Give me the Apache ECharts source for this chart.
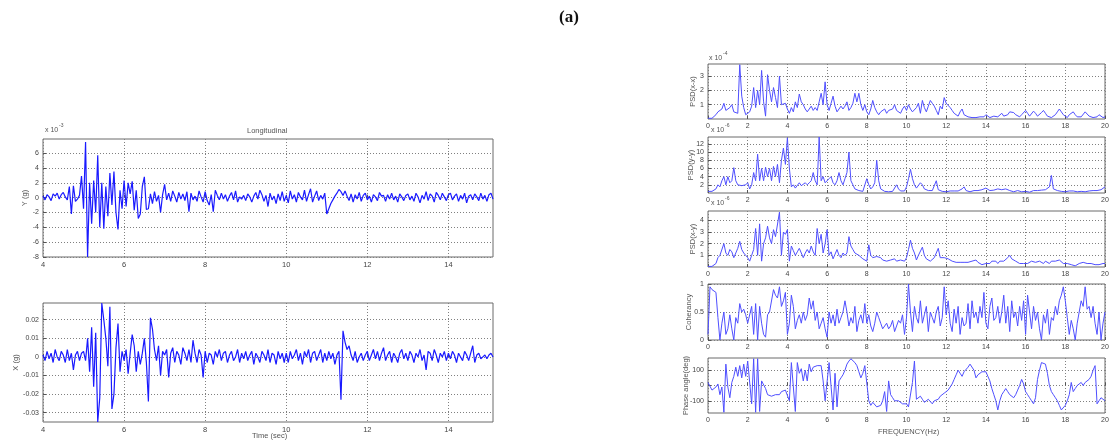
<!DOCTYPE html>
<html>
<head>
<meta charset="utf-8">
<title>Longitudinal records and spectra</title>
<script src="https://cdn.jsdelivr.net/npm/echarts@6/dist/echarts.min.js"></script>
<style>
html, body { margin: 0; padding: 0; background: #fff; }
#chart { width: 1112px; height: 446px; }
</style>
</head>
<body>
<div id="chart"></div>
<script>
// time histories, sampled every 0.05 s from 4.00 s to 15.10 s
var timeStart = 4, timeStep = 0.05;
// Y (g), in units of 1e-3
var accY = [
    0.2, -0.3, 0.4, 0.1, -0.4, 0.5, 0.2, 0.6, -0.2, 0.4, 0.7, 0.1, -0.3, 1.5, -2.2, 1.6, -0.5, -0.2, 0.3, 2.9,
    -1.5, 7.5, -8.0, 2.0, -3.5, 2.3, -2.0, 5.7, -4.0, 2.0, -4.2, 1.5, -2.5, 3.3, -1.0, 3.5, -2.0, -4.3, 1.0, -1.5,
    2.3, -1.2, 2.0, 0.5, 2.2, -1.7, 1.0, -2.8, -2.2, 1.5, 2.8, -1.6, -1.5, 0.5, -0.8, 0.8, -0.5, 0.3, -2.0, 0.4,
    1.8, -0.3, 0.6, -0.5, 0.9, 0.2, -0.6, 0.7, -0.2, 0.5, -0.4, 0.8, -1.9, 0.6, -0.3, 0.2, -0.5, 0.9, 0.1, -0.6,
    0.8, -0.4, -1.0, 0.4, -1.9, 1.0, 0.3, -0.3, 0.6, -0.2, 0.4, -0.5, 0.2, 0.7, -0.3, 0.9, -0.6, 0.1, -0.2, 0.3,
    -0.4, 0.5, 0.1, -0.6, 0.2, 0.7, -0.2, 1.0, 0.4, -0.5, 0.3, -1.2, 0.6, -0.3, 0.2, -0.8, 0.5, -0.4, 0.8, -0.5,
    0.3, -0.7, 0.9, -0.2, 0.4, -0.6, 0.7, 0.1, -0.3, 1.0, -0.5, 0.4, 1.2, -0.6, 0.2, 0.9, -0.4, 0.3, -0.2, 0.6,
    -2.2, -1.5, -0.8, -0.3, 0.2, 0.6, 1.1, 0.8, 0.3, 0.9, 0.2, -0.4, 0.5, -0.6, 0.4, -0.2, 0.7, -0.5, 0.3, 0.6,
    -0.3, 0.2, -0.6, 0.4, 0.1, -0.4, 0.7, 0.2, 0.3, -0.5, 0.4, -0.2, 0.6, -0.3, 0.2, -0.6, 0.5, 0.1, -0.4, 0.3,
    0.5, -0.3, 0.2, -0.5, 0.6, 0.1, -0.7, 0.3, -0.2, 0.8, -0.4, 0.5, 0.2, -0.6, 0.7, 0.3, -0.3, 0.6, 0.1, -0.4,
    0.4, 0.6, -0.3, 0.2, 0.5, -0.5, 0.3, -0.2, 0.6, -0.7, 0.2, 0.4, -0.3, 0.5, 0.1, -0.4, 0.6, -0.2, 0.3, -0.5,
    0.4, 0.6, -0.2
];
// X (g)
var accX = [
    0.001, -0.002, 0.003, -0.001, 0.002, -0.003, 0.004, 0.000, -0.002, 0.003, 0.001, -0.003, 0.004, -0.002, 0.002, -0.007, 0.001, 0.003, -0.002, 0.002,
    0.003, -0.002, 0.010, -0.008, 0.016, -0.016, 0.013, -0.035, -0.022, 0.029, 0.020, 0.010, -0.005, 0.027, -0.028, -0.020, 0.005, 0.018, -0.008, 0.003,
    -0.002, 0.004, -0.009, 0.002, 0.012, 0.006, -0.008, 0.003, -0.004, 0.002, 0.010, -0.003, -0.024, 0.021, 0.015, 0.004, -0.002, 0.006, -0.010, 0.003,
    0.001, 0.004, -0.011, 0.002, 0.005, -0.003, 0.003, 0.001, -0.004, 0.005, 0.002, -0.002, 0.004, -0.003, 0.009, 0.002, -0.003, 0.004, 0.001, -0.011,
    0.003, -0.003, 0.002, 0.001, -0.004, 0.003, 0.000, 0.004, -0.002, 0.002, 0.003, -0.003, 0.001, 0.003, -0.002, 0.000, 0.004, -0.003, 0.002, -0.001,
    0.003, -0.002, 0.001, 0.003, -0.004, 0.002, 0.000, -0.003, 0.003, 0.001, -0.002, 0.004, -0.003, 0.002, 0.001, -0.004, 0.003, -0.001, 0.002, -0.003,
    0.002, -0.003, 0.003, -0.001, 0.001, 0.004, -0.002, 0.002, -0.004, 0.003, 0.000, 0.004, -0.003, 0.002, 0.003, -0.002, 0.001, 0.004, -0.003, 0.002,
    -0.002, 0.003, -0.001, 0.002, -0.004, 0.001, 0.003, -0.023, 0.014, 0.008, 0.004, 0.006, 0.001, -0.002, 0.003, -0.003, 0.000, 0.002, -0.002, 0.001,
    0.003, -0.002, 0.001, 0.004, -0.001, 0.003, -0.002, 0.002, 0.005, -0.002, 0.001, 0.003, -0.003, 0.002, 0.000, -0.003, 0.002, 0.004, -0.001, 0.002,
    -0.002, 0.003, 0.001, -0.003, 0.002, 0.000, 0.004, -0.002, 0.001, -0.007, 0.003, 0.002, -0.002, 0.004, 0.001, -0.003, 0.002, 0.000, 0.003, -0.002,
    0.002, -0.001, 0.003, 0.001, -0.003, 0.002, 0.000, -0.002, 0.003, 0.001, -0.002, 0.002, 0.006, -0.003, 0.001, 0.002, -0.001, 0.000, 0.001, -0.001,
    0.001, 0.002, 0.000
];

// spectra, every 0.1 Hz from 0 to 20 Hz
var freqStep = 0.1;
// PSD(x-x), units of 1e-4
var psdXX = [
    0.05, 0.05, 0.05, 0.1, 0.3, 0.5, 0.6, 0.7, 1.1, 0.6,
    0.5, 0.8, 1.0, 0.5, 0.6, 0.4, 3.8, 1.6, 0.8, 0.3,
    0.2, 0.5, 0.9, 2.2, 0.8, 2.0, 1.0, 3.4, 1.2, 0.2,
    3.1, 2.0, 1.2, 2.2, 1.5, 0.8, 3.0, 1.0, 0.9, 1.1,
    0.7, 0.4, 0.8, 0.5, 1.2, 0.8, 1.75, 1.2, 1.0, 0.7,
    0.5, 0.7, 0.9, 0.6, 0.8, 0.6, 1.2, 1.8, 1.0, 2.6,
    1.0, 0.6, 1.1, 1.6, 0.9, 0.5, 0.7, 0.9, 0.7, 0.9,
    1.2, 0.6, 0.8, 1.1, 1.8, 1.2, 1.8, 1.0, 0.6, 1.0,
    0.5, 0.3, 0.7, 1.3, 0.8, 0.5, 0.3, 0.5, 0.6, 0.7,
    0.4, 0.6, 0.5, 0.7, 1.0, 0.6, 0.5, 0.4, 0.7, 0.9,
    0.6, 1.0, 0.7, 0.5, 0.6, 0.8, 1.1, 0.4, 1.3, 0.8,
    0.5, 0.9, 1.3, 1.1, 0.9, 0.6, 0.3, 0.9, 0.7, 1.5,
    1.1, 1.0, 0.8, 0.6, 0.4, 0.3, 0.2, 0.5, 0.7, 0.3,
    0.2, 0.15, 0.1, 0.1, 0.15, 0.1, 0.1, 0.15, 0.1, 0.15,
    0.3, 0.2, 0.1, 0.15, 0.2, 0.1, 0.15, 0.25, 0.4, 0.2,
    0.15, 0.3, 0.5, 0.6, 0.45, 0.3, 0.2, 0.15, 0.3, 0.2,
    0.6, 0.4, 0.2, 0.1, 0.55, 0.4, 0.2, 0.3, 0.45, 0.6,
    0.4, 0.2, 0.15, 0.1, 0.2, 0.3, 0.5, 0.7, 0.5, 0.3,
    0.2, 0.1, 0.3, 0.4, 0.5, 0.3, 0.15, 0.1, 0.15, 0.2,
    0.5, 0.4, 0.2, 0.15, 0.1, 0.2, 0.15, 0.3, 0.2, 0.1,
    0.15
];
// PSD(y-y), units of 1e-6
var psdYY = [
    0.4, 0.4, 0.4, 0.5, 1.0, 2.0, 1.5, 3.0, 4.0, 2.0,
    4.0, 2.5, 3.0, 6.2, 3.0, 2.0, 2.2, 1.8, 1.5, 2.0,
    2.5, 1.0, 2.0, 5.0, 3.0, 9.5, 3.0, 6.0, 3.0, 6.3,
    4.0, 6.0, 3.0, 6.5, 4.0, 7.0, 2.5, 8.0, 11.0, 7.0,
    13.5, 6.0, 1.5, 2.0, 1.2, 1.5, 2.5, 1.8, 2.0, 2.5,
    2.0, 2.5, 3.0, 5.0, 3.0, 2.0, 13.7, 3.0, 4.0, 2.5,
    2.5, 3.5, 4.0, 2.5, 2.0, 3.0, 5.0, 3.0, 2.0, 3.5,
    5.0, 10.0, 3.0, 2.0, 1.0, 0.8, 0.6, 0.5, 0.4, 0.5,
    3.5, 2.0, 1.0, 1.5, 2.5, 8.0, 3.0, 1.0, 0.6, 0.4,
    0.3, 0.3, 0.5, 0.4, 0.8, 2.0, 1.0, 0.5, 0.4, 0.5,
    1.5, 3.5, 5.8, 3.5, 2.0, 1.2, 1.5, 2.5, 2.0, 1.0,
    0.8, 0.6, 0.5, 0.6, 0.5, 3.0, 0.8, 0.5, 0.4, 0.3,
    0.3, 0.4, 0.5, 0.4, 0.5, 0.6, 0.5, 0.8, 1.0, 1.5,
    0.6, 0.4, 0.3, 0.5, 0.6, 0.8, 0.6, 0.5, 0.8, 1.0,
    1.2, 0.8, 0.6, 0.5, 0.7, 0.9, 1.0, 1.2, 0.8, 1.2,
    1.0, 0.8, 0.6, 0.4, 0.3, 0.5, 0.6, 0.4, 0.3, 0.4,
    0.4, 0.3, 0.2, 0.4, 0.6, 0.8, 0.6, 0.5, 0.7, 0.8,
    0.8, 1.0, 1.5, 4.3, 1.0, 0.8, 0.6, 0.5, 0.4, 0.3,
    0.3, 0.4, 0.5, 0.6, 0.5, 0.4, 0.3, 0.5, 0.4, 0.3,
    0.3, 0.4, 0.5, 0.4, 0.6, 0.8, 0.6, 0.5, 0.8, 1.0,
    1.5
];
// PSD(x-y), units of 1e-6
var psdXY = [
    0.05, 0.05, 0.05, 0.1, 0.3, 0.8, 1.0, 0.9, 2.0, 1.2,
    1.0, 1.5, 1.3, 0.8, 1.2, 1.6, 2.2, 1.5, 1.2, 1.0,
    0.8, 0.5, 1.0, 1.5, 3.3, 1.0, 3.7, 0.5, 2.0, 2.5,
    3.5, 2.5, 2.0, 3.2, 2.6, 2.5, 4.7, 1.0, 3.0, 2.8,
    3.2, 0.5, 1.8, 1.4, 1.0, 1.3, 1.6, 1.2, 0.8, 1.2,
    1.5, 1.2, 1.8, 1.3, 1.0, 3.3, 2.0, 2.8, 1.2, 2.0,
    3.2, 1.0, 1.3, 0.7, 1.1, 1.5, 1.0, 0.8, 1.2, 1.0,
    1.2, 2.6, 1.8, 1.5, 1.2, 1.3, 1.0, 0.9, 0.7, 0.6,
    0.5, 1.9, 1.0, 0.8, 0.7, 0.9, 1.0, 0.8, 0.6, 0.5,
    0.5, 0.4, 0.6, 0.5, 0.7, 0.5, 0.4, 0.6, 0.5, 0.5,
    0.8, 1.5, 2.3, 1.6, 1.2, 0.6, 1.0, 0.9, 1.7, 1.0,
    0.7, 0.6, 0.5, 0.6, 0.8, 0.7, 1.6, 0.8, 0.9, 0.8,
    0.8, 0.7, 0.6, 0.5, 0.6, 0.4, 0.5, 0.4, 0.3, 0.4,
    0.3, 0.4, 0.3, 0.5, 0.4, 0.6, 0.4, 0.3, 0.2, 0.3,
    0.3, 0.4, 0.3, 0.5, 0.4, 0.5, 0.3, 0.5, 0.6, 0.5,
    0.6, 0.8, 1.0, 0.7, 0.6, 0.5, 0.4, 0.3, 0.2, 0.3,
    0.2, 0.3, 0.4, 0.5, 0.6, 0.4, 0.3, 0.5, 0.4, 0.3,
    0.5, 0.4, 0.3, 0.5, 0.6, 0.5, 0.4, 0.6, 0.5, 0.3,
    0.4, 0.3, 0.2, 0.2, 0.1, 0.1, 0.2, 0.3, 0.3, 0.4,
    0.4, 0.3, 0.2, 0.3, 0.2, 0.2, 0.3, 0.2, 0.2, 0.3,
    0.3
];
var coherency = [
    0.1, 0.95, 0.9, 0.88, 0.85, 0.4, 0.0, 0.3, 0.5, 0.1,
    0.2, 0.45, 0.2, 0.0, 0.4, 0.3, 0.65, 0.5, 0.55, 0.45,
    0.3, 0.3, 0.6, 0.1, 0.65, 0.0, 0.6, 0.3, 0.1, 0.05,
    0.45, 0.5, 0.5, 0.9, 0.8, 0.75, 0.95, 0.6, 0.7, 0.85,
    0.1, 0.3, 0.8, 0.6, 0.2, 0.35, 0.45, 0.3, 0.5, 0.35,
    0.45, 0.75, 0.55, 0.7, 0.35, 0.5, 0.2, 0.3, 0.4, 0.2,
    0.05, 0.5, 0.3, 0.45, 0.25, 0.55, 0.3, 0.4, 0.5, 0.7,
    0.5, 0.25, 0.4, 0.3, 0.6, 0.15, 0.35, 0.45, 0.3, 0.65,
    0.3, 0.45, 0.25, 0.15, 0.3, 0.5, 0.4, 0.3, 0.2, 0.25,
    0.3, 0.2, 0.25, 0.35, 0.15, 0.25, 0.35, 0.3, 0.45, 0.1,
    0.4, 1.0, 0.5, 0.15, 0.6, 0.4, 0.3, 0.7, 0.3, 0.45,
    0.6, 0.15, 0.5, 0.4, 0.3, 0.5, 0.6, 0.25, 0.4, 0.95,
    0.45, 0.7, 0.3, 0.15, 0.55, 0.3, 0.6, 0.1, 0.4, 0.25,
    0.3, 0.65, 0.2, 0.7, 0.4, 0.5, 0.3, 0.6, 0.4, 0.85,
    0.3, 0.2, 0.6, 0.75, 0.35, 0.4, 0.6, 0.3, 0.5, 0.8,
    0.3, 0.6, 0.15, 0.7, 0.4, 0.5, 0.25, 0.6, 0.35, 0.7,
    0.1, 0.8, 0.5, 0.2, 0.6, 0.35, 0.5, 0.2, 0.0, 0.45,
    0.3, 0.55, 0.1, 0.4, 0.35, 0.6, 0.45, 0.7, 0.8, 0.95,
    0.7, 0.4, 0.1, 0.35, 0.2, 0.0, 0.3, 0.5, 0.7, 0.6,
    0.95, 0.55, 0.6, 0.4, 0.6, 0.3, 0.1, 0.5, 0.0, 0.3,
    0.5
];
// phase angle (deg)
var phase = [
    20, 10, -30, -20, -10, 10, -60, -10, -175, 140,
    -10, -80, 20, 60, 120, 60, 130, 50, 140, 60,
    160, 170, -120, 175, -175, 175, -170, 30, 20, -20,
    -60, -50, -70, -65, -60, -55, -60, -40, -30, -30,
    -20, -100, 150, 160, -170, 150, 80, 110, 30, 100,
    30, 140, 90, 120, 110, 130, 120, 130, 30, -100,
    -90, 150, 160, -160, 80, -140, 30, 50, 70, 100,
    140, 160, 175, 170, 150, 130, 90, 50, 80, 130,
    130, -100, -130, -110, -120, -140, -150, -130, -100, -40,
    -170, 30, -60, -80, -100, -110, -100, -110, -120, -130,
    -120, -140, -150, 20, 160, -90, -80, -70, -90, -110,
    -100, -90, -80, -120, -100, -110, -90, -70, -60, -50,
    -60, -30, -10, 10, 40, 70, 100, 80, 60, 90,
    90, 120, 140, 150, 100, 50, 70, 80, 90, 85,
    90, 60, 30, -20, -60, -100, -160, -100, -60, -40,
    -20, -40, -60, -70, -80, -60, -30, 0, 40, 10,
    -40, -60, -80, -100, -120, -80, 40, 100, 150, 155,
    140, 80, 0, -40, -60, -80, -100, -130, -160, -150,
    -130, -100, -60, 20, -40, -20, 0, 10, 20, 0,
    20, 30, 40, 60, 100, 130, -120, -100, -80, -90,
    -100
];

// tick labels
var timeTicks = [4, 6, 8, 10, 12, 14];
var accYTicks = [-8, -6, -4, -2, 0, 2, 4, 6];
var accXTicks = [-0.03, -0.02, -0.01, 0, 0.01, 0.02];
var freqTicks = [0, 2, 4, 6, 8, 10, 12, 14, 16, 18, 20];
var psdXXTicks = [1, 2, 3];
var psdYYTicks = [2, 4, 6, 8, 10, 12];
var psdXYTicks = [1, 2, 3, 4];
var cohTicks = [0, 0.5, 1];
var phaseTicks = [-100, 0, 100];

var FONT = 'Liberation Sans';
var chart = echarts.init(document.getElementById('chart'));

function pairs(values, start, step) {
    return values.map(function(v, i) {
        return [Math.round((start + i * step) * 1000) / 1000, v];
    });
}

var grids = [
    { left: 43, top: 139, width: 450, height: 118 },
    { left: 43, top: 303, width: 450, height: 119 },
    { left: 708, top: 64, width: 397, height: 55 },
    { left: 708, top: 137, width: 397, height: 56 },
    { left: 708, top: 211, width: 397, height: 56 },
    { left: 708, top: 284, width: 397, height: 56 },
    { left: 708, top: 358, width: 397, height: 55 }
].map(function(g) {
    g.show = true;
    g.borderColor = '#6a6a6a';
    g.borderWidth = 1;
    g.backgroundColor = '#fff';
    return g;
});

function axisCommon(gi, min, max, ticks, fontSize) {
    return {
        type: 'value',
        gridIndex: gi,
        min: min,
        max: max,
        axisLine: { show: false },
        axisTick: { show: true, inside: true, length: 3, customValues: ticks,
            lineStyle: { color: '#555' } },
        axisLabel: { customValues: ticks, fontSize: fontSize, color: '#444',
            fontFamily: FONT, margin: 4 },
        splitLine: { show: true, lineStyle: { type: [1, 2], color: '#808080', width: 1 } }
    };
}

function yAxisOf(gi, min, max, ticks, name, gap, fmt) {
    var ax = axisCommon(gi, min, max, ticks, 7);
    ax.name = name;
    ax.nameLocation = 'middle';
    ax.nameGap = gap;
    ax.nameMoveOverlap = false;
    ax.nameTextStyle = { fontSize: 7.5, color: '#555', fontFamily: FONT };
    if (fmt) ax.axisLabel.formatter = fmt;
    return ax;
}

var xAxes = [
    axisCommon(0, 4, 15.1, timeTicks, 7.5),
    axisCommon(1, 4, 15.1, timeTicks, 7.5)
];
for (var gi = 2; gi <= 6; gi++) xAxes.push(axisCommon(gi, 0, 20, freqTicks, 7));

var yAxes = [
    yAxisOf(0, -8, 7.9, accYTicks, 'Y (g)', 14),
    yAxisOf(1, -0.035, 0.029, accXTicks, 'X (g)', 23),
    yAxisOf(2, 0, 3.85, psdXXTicks, 'PSD(x-x)', 11),
    yAxisOf(3, 0, 13.7, psdYYTicks, 'PSD(y-y)', 13),
    yAxisOf(4, 0, 4.8, psdXYTicks, 'PSD(x-y)', 11),
    yAxisOf(5, 0, 1, cohTicks, 'Coherancy', 15),
    yAxisOf(6, -180, 180, phaseTicks, 'Phase angle(deg)', 18)
];

function lineSeries(idx, data, color, width) {
    return {
        type: 'line',
        xAxisIndex: idx,
        yAxisIndex: idx,
        data: data,
        showSymbol: false,
        sampling: false,
        animation: false,
        lineStyle: { color: color, width: width },
        z: 3
    };
}

var series = [
    lineSeries(0, pairs(accY, timeStart, timeStep), '#1a1aff', 1.2),
    lineSeries(1, pairs(accX, timeStart, timeStep), '#1a1aff', 1.2),
    lineSeries(2, pairs(psdXX, 0, freqStep), '#4f4fff', 1),
    lineSeries(3, pairs(psdYY, 0, freqStep), '#4f4fff', 1),
    lineSeries(4, pairs(psdXY, 0, freqStep), '#4f4fff', 1),
    lineSeries(5, pairs(coherency, 0, freqStep), '#4f4fff', 1),
    lineSeries(6, pairs(phase, 0, freqStep), '#4f4fff', 1)
];

function txt(x, y, s, size, extra) {
    var style = { text: s, fontSize: size, fontFamily: FONT, fill: '#555' };
    for (var k in extra) style[k] = extra[k];
    return { type: 'text', left: x, top: y, style: style, silent: true };
}

// exponent labels drawn as "x 10" with a small raised power
function expo(x, y, power) {
    return [
        txt(x, y, 'x 10', 7),
        txt(x + 14, y - 4, power, 5)
    ];
}

var graphics = [
    txt(559, 9, '(a)', 17, { fontFamily: 'Liberation Serif', fontWeight: 'bold', fill: '#111' }),
    txt(247, 127, 'Longitudinal', 7.5),
    txt(252, 432, 'Time (sec)', 7.5),
    txt(878, 428, 'FREQUENCY(Hz)', 7.5)
].concat(expo(45, 127, '-3'))
 .concat(expo(709, 55, '-4'))
 .concat(expo(711, 127, '-6'))
 .concat(expo(711, 200, '-6'));

chart.setOption({
    animation: false,
    backgroundColor: '#fff',
    grid: grids,
    xAxis: xAxes,
    yAxis: yAxes,
    series: series,
    graphic: graphics
});
</script>
</body>
</html>
